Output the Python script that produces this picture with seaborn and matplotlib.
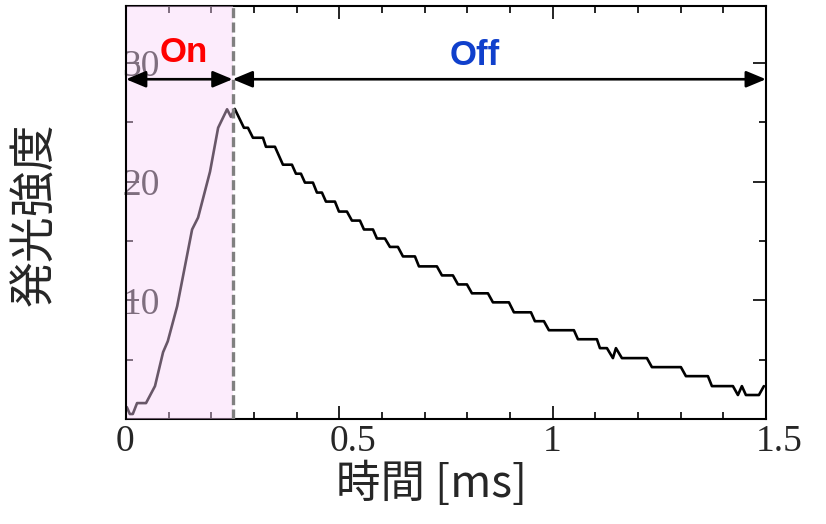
import numpy as np
import pandas as pd
import matplotlib
matplotlib.use('Agg')
import matplotlib.pyplot as plt
import matplotlib.transforms as mtransforms
import seaborn as sns

# luminescence trace (time in ms, intensity a.u.)
time_ms = [0.002, 0.009, 0.016, 0.026, 0.047, 0.068, 0.087, 0.098, 0.120, 0.155,
           0.169, 0.197, 0.216, 0.237, 0.246, 0.255,
           0.2765, 0.2859, 0.2976, 0.3211, 0.3281, 0.3492, 0.3679, 0.3890, 0.3984, 0.4101,
           0.4195, 0.4382, 0.4476, 0.4593, 0.4687, 0.4898, 0.4992, 0.5179, 0.5296, 0.5484,
           0.5578, 0.5789, 0.5882, 0.6070, 0.6187, 0.6374, 0.6492, 0.6773, 0.6867, 0.7288,
           0.7406, 0.7663, 0.7781, 0.7992, 0.8109, 0.8484, 0.8601, 0.8976, 0.9093, 0.9492,
           0.9585, 0.9796, 0.9913, 1.0499, 1.0593, 1.1038, 1.1109, 1.1273, 1.1413, 1.1484,
           1.1624, 1.2210, 1.2327, 1.3007, 1.3124, 1.3640, 1.3733, 1.4226, 1.4343, 1.4436,
           1.4530, 1.4835, 1.4952]
intensity = [1.00, 0.42, 0.42, 1.34, 1.34, 2.77, 5.63, 6.55, 9.50, 15.97,
             16.97, 20.84, 24.54, 26.10, 25.46, 26.13,
             24.54, 24.54, 23.70, 23.70, 22.94, 22.94, 21.43, 21.43, 20.67, 20.67,
             19.92, 19.92, 19.08, 19.08, 18.32, 18.32, 17.48, 17.48, 16.72, 16.72,
             15.97, 15.97, 15.21, 15.21, 14.50, 14.50, 13.70, 13.70, 12.86, 12.86,
             12.10, 12.10, 11.34, 11.34, 10.59, 10.59, 9.83, 9.83, 8.99, 8.99,
             8.24, 8.24, 7.48, 7.48, 6.72, 6.72, 5.97, 5.97, 5.13, 5.97,
             5.13, 5.13, 4.37, 4.37, 3.61, 3.61, 2.77, 2.77, 2.02, 2.77,
             2.02, 2.02, 2.77]

on_end = 0.25
x_end = 1.5
arrow_level = 28.63
xticks = [0, 0.5, 1, 1.5]
xtick_labels = ['0', '0.5', '1', '1.5']
yticks = [10, 20, 30]
ytick_labels = ['10', '20', '30']

df = pd.DataFrame({'time': time_ms, 'intensity': intensity})

sns.set_theme(style='ticks')
plt.rcParams['font.family'] = ['Liberation Serif', 'DejaVu Serif']
plt.rcParams['axes.linewidth'] = 1.5

fig = plt.figure(figsize=(8.26, 5.24), dpi=100)
ax = fig.add_axes([0.1525, 0.2004, 0.7748, 0.7881])

sns.lineplot(data=df, x='time', y='intensity', color='black', lw=1.9,
             estimator=None, sort=False, ax=ax, zorder=2)

# "On" interval shading drawn over the trace, as in the original
ax.axvspan(0, on_end, color='#fad2fa', alpha=0.42, lw=0, zorder=3)
ax.axvline(on_end, color='#808080', lw=2.4, ls=(0, (3, 1.3)), zorder=4)

arrow_kw = dict(arrowstyle='<|-|>,head_length=0.6,head_width=0.25',
                color='black', lw=1.9, shrinkA=0, shrinkB=0, mutation_scale=20)
ax.annotate('', xy=(0, arrow_level), xytext=(on_end, arrow_level),
            arrowprops=arrow_kw, zorder=5)
ax.annotate('', xy=(on_end, arrow_level), xytext=(x_end, arrow_level),
            arrowprops=arrow_kw, zorder=5)

ax.text(0.136, 30.9, 'On', color='#ff0000', fontsize=25, fontweight='bold',
        family=['Liberation Sans'], ha='center', va='center', zorder=6)
ax.text(0.818, 30.6, 'Off', color='#1040cc', fontsize=25, fontweight='bold',
        family=['Liberation Sans'], ha='center', va='center', zorder=6)

ax.set_xlim(0, x_end)
ax.set_ylim(0, 34.8)
ax.set_xticks(xticks)
ax.set_xticklabels(xtick_labels)
ax.set_xticks(np.arange(0.1, 1.5, 0.1), minor=True)
ax.set_yticks(yticks)
ax.set_yticklabels(ytick_labels)
ax.set_yticks([5, 15, 25], minor=True)

ax.tick_params(which='both', direction='in', top=True, right=True, width=1.2,
               color='black')
ax.tick_params(which='major', length=9.5)
ax.tick_params(which='minor', length=5)
ax.tick_params(axis='x', labelsize=27, pad=4)
ax.tick_params(axis='y', labelsize=27, pad=-24.5)

offset = mtransforms.ScaledTranslation(-10 / 100, 0, fig.dpi_scale_trans)
for lbl in ax.get_xticklabels():
    lbl.set_horizontalalignment('left')
    lbl.set_transform(lbl.get_transform() + offset)

for side in ['left', 'right', 'top', 'bottom']:
    ax.spines[side].set_color('black')
ax.spines['left'].set_zorder(4)

ax.set_xlabel('')
ax.set_ylabel('')
fig.text(35 / 826, 1 - 214 / 524, '発光強度', rotation=90, fontsize=33,
         family=['Noto Sans CJK JP', 'DejaVu Sans'], ha='center', va='center')
fig.text(432 / 826, 1 - 484 / 524, '時間 [ms]', fontsize=32,
         family=['Noto Sans CJK JP', 'DejaVu Sans'], ha='center', va='center')

fig.savefig('out.png', dpi=100)
